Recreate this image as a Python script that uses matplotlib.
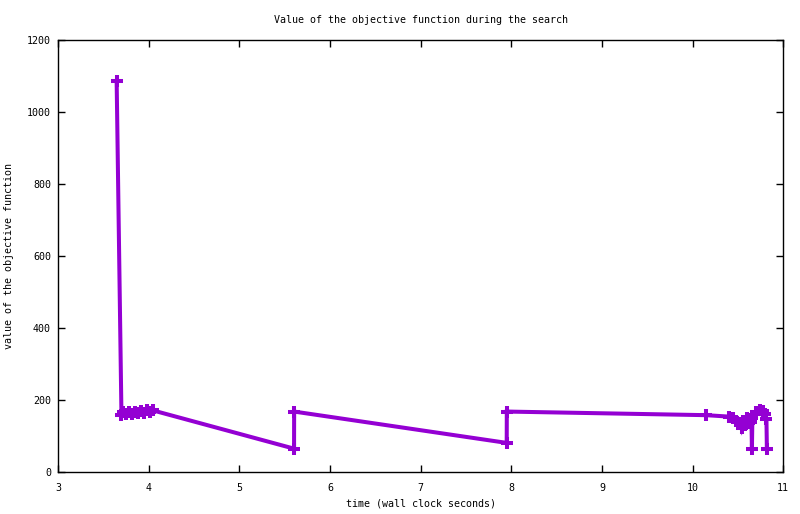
import matplotlib
matplotlib.use("Agg")
import matplotlib.pyplot as plt

# time (s) and objective value
times = [3.647, 3.700, 3.72, 3.75, 3.78, 3.82, 3.85, 3.88, 3.92, 3.95, 3.98, 4.02, 4.05,
         5.604, 5.605, 7.950, 7.951, 10.15,
         10.40, 10.45, 10.48, 10.52, 10.54, 10.56, 10.58, 10.60, 10.62, 10.64, 10.65,
         10.655, 10.66, 10.70, 10.74, 10.78, 10.80, 10.815, 10.82]
values = [1085, 158, 165, 160, 167, 160, 165, 162, 168, 163, 170, 165, 170,
          64, 167, 80, 167, 157,
          153, 150, 140, 135, 120, 140, 130, 148, 135, 145, 137,
          64, 150, 165, 170, 168, 160, 147, 64]

xticks = [3, 4, 5, 6, 7, 8, 9, 10, 11]
yticks = [0, 200, 400, 600, 800, 1000, 1200]

plt.rcParams['font.family'] = ['DejaVu Sans Mono']
plt.rcParams['font.size'] = 7.2

fig = plt.figure(figsize=(8, 5.14), dpi=100)
ax = fig.add_axes([0.0725, 0.0823, 0.9065, 0.8407])

ax.plot(times, values, color='#9400d3', linewidth=2.9, marker='+',
        markersize=8, markeredgewidth=2.9, solid_joinstyle='miter')

ax.set_xlim(3, 11)
ax.set_ylim(0, 1200)
ax.set_xticks(xticks)
ax.set_yticks(yticks)
ax.tick_params(direction='in', length=5, width=1, top=True, right=True)
ax.tick_params(axis='x', pad=8)
ax.tick_params(axis='y', pad=5)
for s in ax.spines.values():
    s.set_linewidth(1)

ax.set_title('Value of the objective function during the search', fontsize=7.2, pad=12)
ax.set_xlabel('time (wall clock seconds)', labelpad=4)
ax.set_ylabel('value of the objective function')
ax.yaxis.set_label_coords(-0.061, 0.5)

fig.savefig('out.png', dpi=100)
